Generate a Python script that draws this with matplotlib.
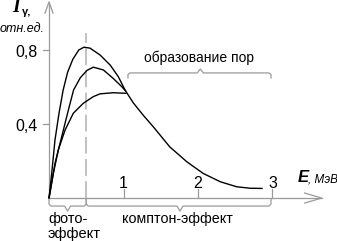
import matplotlib
matplotlib.use("Agg")
import matplotlib.pyplot as plt

plt.rcParams["font.family"] = ["Liberation Sans", "DejaVu Sans"]

# curves (E in MeV, I in rel. units)
E_top = [0, 0.036, 0.08, 0.134, 0.19, 0.25, 0.32, 0.40, 0.47, 0.55, 0.685, 0.82,
         0.93, 1.02, 1.13, 1.27, 1.40, 1.62, 1.85, 2.07, 2.30, 2.52, 2.70, 2.86]
I_top = [0, 0.133, 0.313, 0.458, 0.584, 0.68, 0.75, 0.80, 0.815, 0.81, 0.773, 0.719,
         0.656, 0.584, 0.515, 0.445, 0.385, 0.277, 0.196, 0.133, 0.088, 0.061, 0.053, 0.052]
E_mid = [0, 0.08, 0.17, 0.26, 0.33, 0.42, 0.51, 0.595, 0.73, 0.86, 0.976, 1.03]
I_mid = [0, 0.187, 0.331, 0.476, 0.584, 0.65, 0.69, 0.707, 0.692, 0.647, 0.602, 0.578]
E_low = [0, 0.058, 0.125, 0.215, 0.326, 0.46, 0.595, 0.685, 0.86, 1.03]
I_low = [0, 0.133, 0.26, 0.367, 0.458, 0.512, 0.548, 0.563, 0.569, 0.566]

x_ticks = [1, 2, 3]
x_labels = ["1", "2", "3"]
y_ticks = [0.4, 0.8]
y_labels = ["0,4", "0,8"]
E_photo = 0.5          # dashed border photo / compton
pores = (1.06, 2.98)   # "образование пор" span
compton_end = 2.98

GREY = "#9a9a9a"
fig = plt.figure(figsize=(3.37, 2.41), dpi=100)
ax = fig.add_axes([0, 0, 1, 1])
ax.set_xlim(-0.658, 3.866)
ax.set_ylim(-0.232, 1.070)
ax.axis("off")
px, py = 1 / 74.5, 1 / 185  # one pixel in data units

# axes with open arrowheads
ax.plot([0, 0], [0, 1.07 - 2 * py], color=GREY, lw=0.9)
ax.plot([-4 * px, 0, 4 * px], [1.07 - 13 * py, 1.07 - 2 * py, 1.07 - 13 * py], color=GREY, lw=0.9)
x_end = 3.66
ax.plot([0, x_end], [0, 0], color=GREY, lw=0.9)
ax.plot([x_end - 17 * px, x_end, x_end - 17 * px], [5 * py, 0, -5 * py], color=GREY, lw=0.9)

for t, lab in zip(x_ticks, x_labels):
    ax.plot([t, t], [0, 9 * py], color=GREY, lw=0.9)
    ax.text(t, 0.054, lab, ha="center", va="baseline", fontsize=11.5)
for t, lab in zip(y_ticks, y_labels):
    ax.plot([-6 * px, 0], [t, t], color=GREY, lw=0.9)
    ax.text(-0.152, t - 0.036, lab, ha="right", va="baseline", fontsize=11.5)

ax.plot([E_photo, E_photo], [0, 0.89], color="#b0b0b0", lw=1.1, dashes=(11, 3.5))

ax.plot(E_top, I_top, color="k", lw=1.0)
ax.plot(E_mid, I_mid, color="k", lw=1.0)
ax.plot(E_low, I_low, color="k", lw=1.0)


def brace(x0, x1, y, d, nub, xc=None):
    # curly-bracket outline; d < 0 opens downward
    xc = (x0 + x1) / 2 if xc is None else xc
    xs = [x0, x0, x0 + 2 * px, xc - 3 * px, xc, xc + 3 * px, x1 - 2 * px, x1, x1]
    ys = [y, y + 0.7 * d, y + d, y + d, y + d + nub, y + d, y + d, y + 0.7 * d, y]
    ax.plot(xs, ys, color=GREY, lw=0.9)


brace(0, E_photo, -1 * py, -7 * py, -5 * py)
brace(E_photo, compton_end, -1 * py, -7 * py, -5 * py, xc=(180 - 49) * px)
brace(pores[0], pores[1], 0.649, 5 * py, 4 * py, xc=2.03)

ax.text(2.01, 0.735, "образование пор", ha="center", va="baseline", fontsize=10)
ax.text(-0.013, -0.135, "фото-", ha="left", va="baseline", fontsize=10.5)
ax.text(-0.013, -0.218, "эффект", ha="left", va="baseline", fontsize=10.5)
ax.text(0.98, -0.135, "комптон-эффект", ha="left", va="baseline", fontsize=10.3)

ax.text(-0.50, 1.005, "I", family="Liberation Serif", weight="bold", style="italic",
        fontsize=14, va="baseline")
ax.text(-0.37, 0.99, "γ,", weight="bold", fontsize=8, va="baseline")
ax.text(-0.66, 0.897, "отн.ед.", style="italic", fontsize=9, va="baseline")
ax.text(3.34, 0.086, "E", weight="bold", style="italic", fontsize=12, va="baseline")
ax.text(3.47, 0.086, ", МэВ", style="italic", fontsize=8.5, va="baseline")

fig.savefig("out.png", dpi=100)
